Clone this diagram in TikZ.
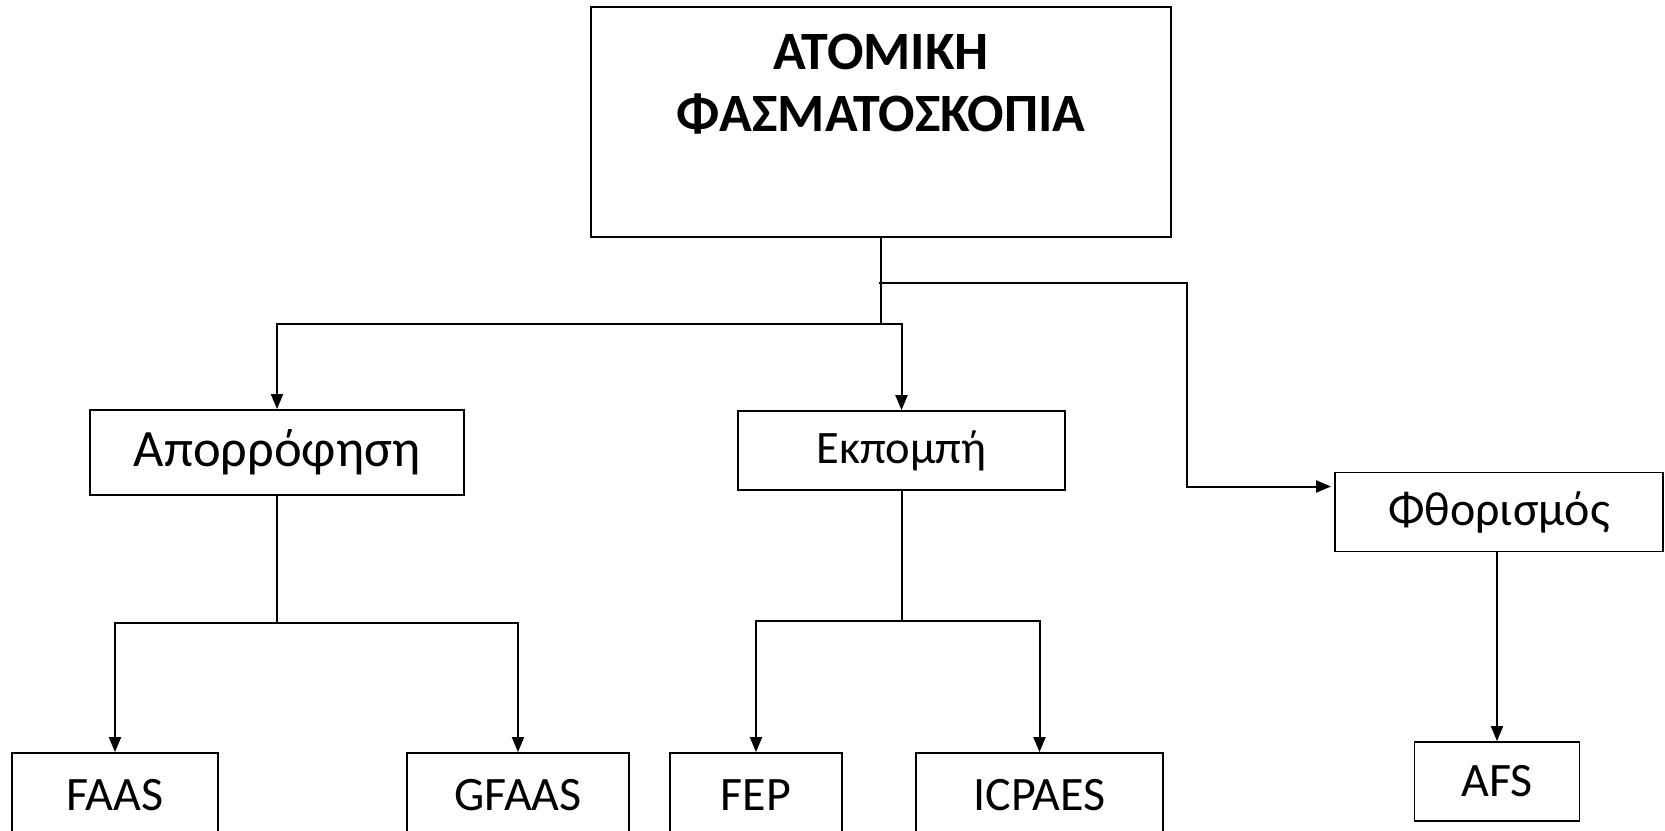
\documentclass[tikz,border=0pt]{standalone}
\usepackage{fontspec}
\setmainfont{Carlito}
\usetikzlibrary{arrows.meta}
\begin{document}
\begin{tikzpicture}[x=1pt,y=-1pt,
  box/.style={draw=black,line width=1.8pt,inner sep=0pt,anchor=center},
  conn/.style={line width=2pt},
  arr/.style={conn,-{Triangle[length=15pt,width=12pt]}}]
\useasboundingbox (0,0) rectangle (1665,830);
% boxes
\node[box,minimum width=580pt,minimum height=230pt] (top) at (881,122) {};
\node[font=\fontsize{54}{62}\selectfont\bfseries,align=center] (toptext) at (881,84) {ΑΤΟΜΙΚΗ\\ΦΑΣΜΑΤΟΣΚΟΠΙΑ};
\node[box,minimum width=374pt,minimum height=85pt,font=\fontsize{52.5}{60}\selectfont] (abs) at (277,452.5) {Απορρόφηση};
\node[box,minimum width=327pt,minimum height=79pt,font=\fontsize{46.5}{54}\selectfont] (emi) at (901.5,450.5) {Εκπομπή};
\node[box,minimum width=328pt,minimum height=79pt,font=\fontsize{48}{56}\selectfont] (flu) at (1499,512) {Φθορισμός};
\node[box,minimum width=206pt,minimum height=84pt,font=\fontsize{48}{56}\selectfont] (faas) at (115,795) {FAAS};
\node[box,minimum width=222pt,minimum height=84pt,font=\fontsize{48}{56}\selectfont] (gfaas) at (518,795) {GFAAS};
\node[box,minimum width=172pt,minimum height=84pt,font=\fontsize{48}{56}\selectfont] (fep) at (756,795) {FEP};
\node[box,minimum width=247pt,minimum height=84pt,font=\fontsize{48}{56}\selectfont] (icp) at (1039.5,795) {ICPAES};
\node[box,minimum width=165pt,minimum height=79pt,font=\fontsize{48}{56}\selectfont] (afs) at (1497,781.5) {AFS};
% junctions
\coordinate (j1) at (881,323.5);
\coordinate (j2) at (879,283);
\coordinate (jf) at (1187,283);
\coordinate (jg) at (1187,486.5);
\coordinate (ja) at (277,623);
\coordinate (je) at (901.5,621);
% connectors
\draw[conn] (top.south) -- (j1);
\draw[arr] (j1) -| (abs.north);
\draw[arr] (j1) -| (emi.north);
\draw[arr] (j2) -- (jf) -- (jg) -- ([xshift=-3pt,yshift=25.5pt]flu.west);
\draw[conn] (abs.south) -- (ja);
\draw[arr] (ja) -| (faas.north);
\draw[arr] (ja) -| (gfaas.north);
\draw[conn] (emi.south) -- (je);
\draw[arr] (je) -| (fep.north);
\draw[arr] (je) -| (icp.north);
\draw[arr] (afs.north |- flu.south) -- (afs.north);
\end{tikzpicture}
\end{document}
